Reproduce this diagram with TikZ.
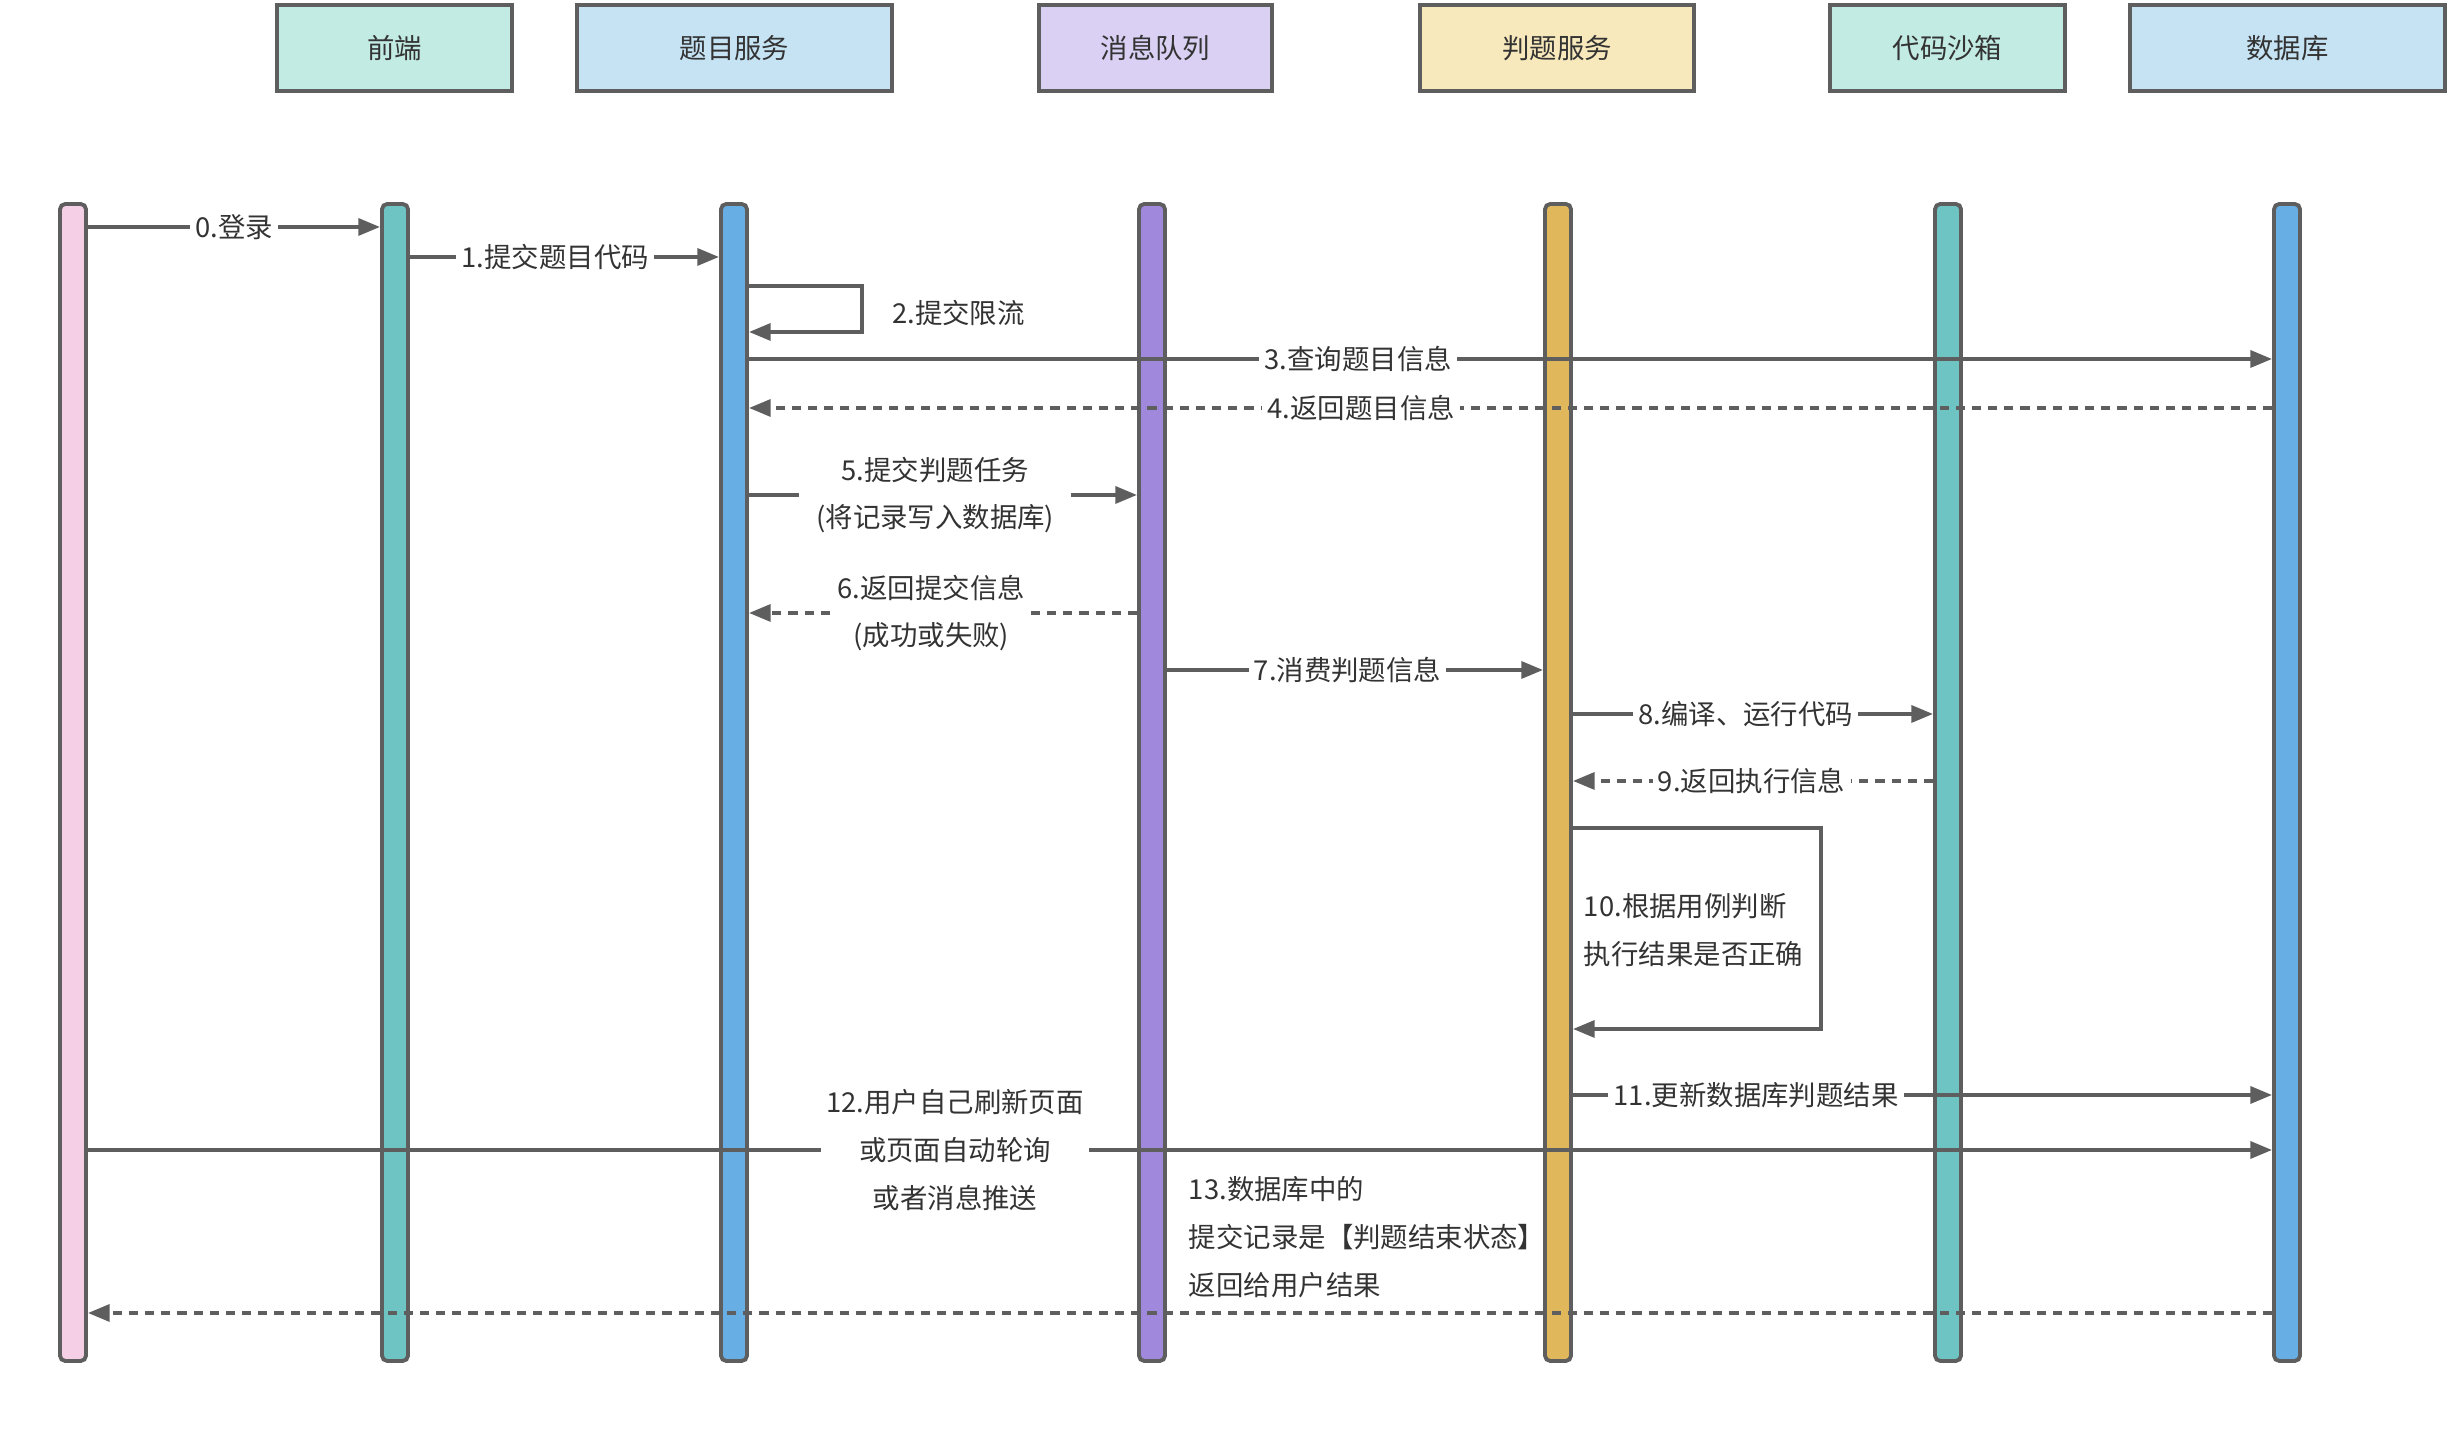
\documentclass[tikz,border=0pt]{standalone}
\usepackage{fontspec}
\setmainfont{Noto Sans CJK SC}
\usetikzlibrary{arrows.meta, positioning}

\definecolor{edge}{HTML}{5E5E5E}
\definecolor{txt}{HTML}{333333}
\definecolor{hdrteal}{HTML}{C2EBE3}
\definecolor{hdrblue}{HTML}{C6E3F4}
\definecolor{hdrpurple}{HTML}{DAD0F4}
\definecolor{hdryellow}{HTML}{F8E9BC}
\definecolor{llpink}{HTML}{F4CFE6}
\definecolor{llteal}{HTML}{6DC4C2}
\definecolor{llblue}{HTML}{66AEE4}
\definecolor{llpurple}{HTML}{A088DD}
\definecolor{llyellow}{HTML}{E1B75C}

\tikzset{
  header/.style={draw=edge, line width=1.1pt, minimum height=0.86cm, text=txt,
    font=\fontsize{7.8}{10}\selectfont},
  lifeline/.style={draw=edge, line width=1.1pt, rounded corners=1.5pt,
    minimum width=0.26cm, minimum height=11.57cm, inner sep=0pt},
  msg/.style={draw=edge, line width=1.1pt, -{Triangle[length=6.2pt, width=4.8pt]}},
  reply/.style={msg, dash pattern=on 2.6pt off 2pt},
  lbl/.style={fill=white, text=txt, inner sep=1.5pt, align=center,
    font=\fontsize{7.8}{13.6}\selectfont},
}

\begin{document}
\begin{tikzpicture}
    \useasboundingbox (0,0) rectangle (24.57,14.30);

    % Participants
    \node[header, fill=hdrteal, minimum width=2.35cm] (hfront) at (3.945,13.82) {前端};
    \node[header, fill=hdrblue, minimum width=3.15cm] (hquestion) at (7.345,13.82) {题目服务};
    \node[header, fill=hdrpurple, minimum width=2.33cm] (hmq) at (11.555,13.82) {消息队列};
    \node[header, fill=hdryellow, minimum width=2.74cm] (hjudge) at (15.57,13.82) {判题服务};
    \node[header, fill=hdrteal, minimum width=2.35cm] (hsandbox) at (19.475,13.82) {代码沙箱};
    \node[header, fill=hdrblue, minimum width=3.15cm] (hdb) at (22.875,13.82) {数据库};

    % Lifelines
    \node[lifeline, fill=llpink] (luser) at (0.73,6.475) {};
    \node[lifeline, fill=llteal] (lfront) at (3.95,6.475) {};
    \node[lifeline, fill=llblue] (lquestion) at (7.34,6.475) {};
    \node[lifeline, fill=llpurple] (lmq) at (11.52,6.475) {};
    \node[lifeline, fill=llyellow] (ljudge) at (15.58,6.475) {};
    \node[lifeline, fill=llteal] (lsandbox) at (19.48,6.475) {};
    \node[lifeline, fill=llblue] (ldb) at (22.87,6.475) {};

    % Messages
    \draw[msg] (luser.east |- 0,12.03) -- node[lbl] {0.登录} (lfront.west |- 0,12.03);
    \draw[msg] (lfront.east |- 0,11.73) -- node[lbl, pos=0.47] {1.提交题目代码} (lquestion.west |- 0,11.73);

    % self call: rate limit
    \coordinate (limtop) at (8.62,11.44);
    \coordinate (limbot) at (8.62,10.98);
    \draw[msg] (lquestion.east |- limtop) -- (limtop) -- node[lbl, right=0.23cm, yshift=-0.04cm] {2.提交限流} (limbot) -- (lquestion.east |- limbot);

    \draw[msg] (lquestion.east |- 0,10.71) -- node[lbl, pos=0.40] {3.查询题目信息} (ldb.west |- 0,10.71);
    \draw[reply] (ldb.west |- 0,10.22) -- node[lbl, pos=0.598] {4.返回题目信息} (lquestion.east |- 0,10.22);
    \draw[msg] (lquestion.east |- 0,9.35) -- node[lbl, pos=0.48, inner xsep=0.17cm] {5.提交判题任务\\(将记录写入数据库)} (lmq.west |- 0,9.35);
    \draw[reply] (lmq.west |- 0,8.17) -- node[lbl, pos=0.53] {6.返回提交信息\\(成功或失败)} (lquestion.east |- 0,8.17);
    \draw[msg] (lmq.east |- 0,7.60) -- node[lbl, pos=0.48] {7.消费判题信息} (ljudge.west |- 0,7.60);
    \draw[msg] (ljudge.east |- 0,7.16) -- node[lbl, pos=0.48] {8.编译、运行代码} (lsandbox.west |- 0,7.16);
    \draw[reply] (lsandbox.west |- 0,6.49) -- node[lbl, pos=0.504] {9.返回执行信息} (ljudge.east |- 0,6.49);

    % self call: check results
    \coordinate (chktop) at (18.21,6.02);
    \coordinate (chkbot) at (18.21,4.01);
    \draw[msg] (ljudge.east |- chktop) -- (chktop) -- (chkbot) -- (ljudge.east |- chkbot);
    \node[lbl, fill=none, align=left, anchor=west] (chk) at (15.78,5.00) {10.根据用例判断\\执行结果是否正确};

    \draw[msg] (ljudge.east |- 0,3.35) -- node[lbl, pos=0.262] {11.更新数据库判题结果} (ldb.west |- 0,3.35);
    \draw[msg] (luser.east |- 0,2.80) -- node[lbl, pos=0.397] {12.用户自己刷新页面\\或页面自动轮询\\或者消息推送} (ldb.west |- 0,2.80);
    \node[lbl, fill=none, align=left, anchor=west] (result) at (11.83,1.93) {13.数据库中的\\提交记录是【判题结束状态】\\返回给用户结果};
    \draw[reply] (ldb.west |- 0,1.17) -- (luser.east |- 0,1.17);
\end{tikzpicture}
\end{document}
